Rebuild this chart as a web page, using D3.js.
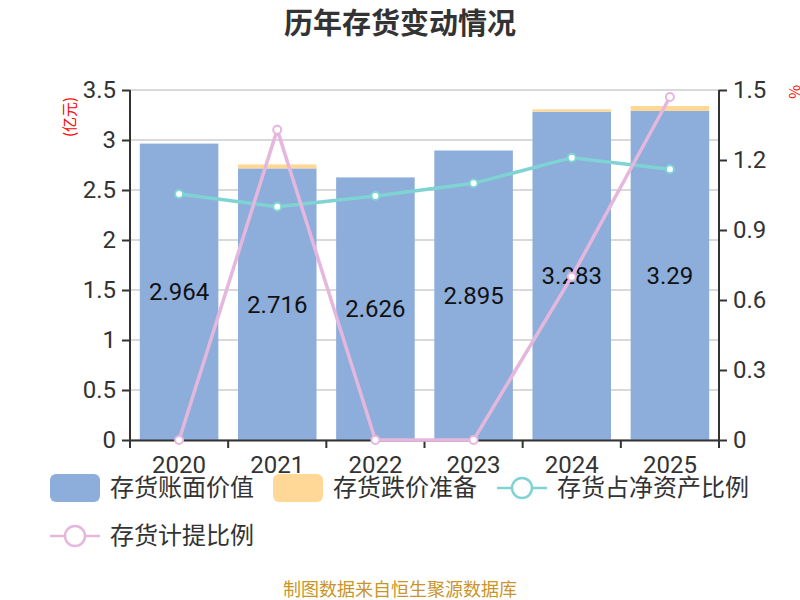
<!DOCTYPE html>
<html>
<head>
<meta charset="utf-8">
<script src="https://cdn.jsdelivr.net/npm/d3@7"></script>
<style>
  body { margin: 0; background: #fff; }
  text { font-family: "Noto Sans CJK SC", "Open Sans", sans-serif; }
  .num { font-family: Roboto, "Open Sans", sans-serif; }
</style>
</head>
<body>
<div id="chart"></div>
<script>
// Data
const years = ["2020", "2021", "2022", "2023", "2024", "2025"];
const bookValue = [2.964, 2.716, 2.626, 2.895, 3.283, 3.29];
const impairment = [0, 0.04, 0, 0, 0.024, 0.05];
const ratioNetAssets = [1.054, 1.0, 1.046, 1.10, 1.21, 1.16];
const provisionRatio = [0, 1.33, 0, 0, 0.70, 1.47];
const leftTicks = [0, 0.5, 1, 1.5, 2, 2.5, 3, 3.5];
const rightTicks = [0, 0.3, 0.6, 0.9, 1.2, 1.5];

const W = 800, H = 600;
const margin = {top: 90, right: 81, bottom: 160, left: 130},
      width = W - margin.left - margin.right,
      height = H - margin.top - margin.bottom;

const blue = "#8daddb", orange = "#ffd898", teal = "#7fd3d3", pink = "#e6b7dc";

const svg = d3.select("#chart").append("svg")
    .attr("width", W).attr("height", H);

svg.append("text")
    .attr("x", W / 2).attr("y", 34)
    .attr("text-anchor", "middle")
    .attr("font-size", 29).attr("font-weight", "bold").attr("fill", "#333")
    .text("历年存货变动情况");

const g = svg.append("g").attr("transform", `translate(${margin.left},${margin.top})`);

const x = d3.scaleBand().domain(years).range([0, width]).paddingInner(0.2).paddingOuter(0.1);
const yL = d3.scaleLinear().domain([0, 3.5]).range([height, 0]);
const yR = d3.scaleLinear().domain([0, 1.5]).range([height, 0]);

// grid
g.append("g").selectAll("line").data(leftTicks).enter().append("line")
    .attr("x1", 0).attr("x2", width)
    .attr("y1", d => yL(d)).attr("y2", d => yL(d))
    .attr("stroke", "#ccc").attr("stroke-width", 1.5);

// bars
g.append("g").selectAll("rect").data(years).enter().append("rect")
    .attr("x", d => x(d)).attr("width", x.bandwidth())
    .attr("y", (d, i) => yL(bookValue[i]))
    .attr("height", (d, i) => height - yL(bookValue[i]))
    .attr("fill", blue);

g.append("g").selectAll("rect").data(years).enter().append("rect")
    .attr("x", d => x(d)).attr("width", x.bandwidth())
    .attr("y", (d, i) => yL(bookValue[i] + impairment[i]))
    .attr("height", (d, i) => yL(bookValue[i]) - yL(bookValue[i] + impairment[i]))
    .attr("fill", orange);

// bar labels
g.append("g").selectAll("text").data(years).enter().append("text")
    .attr("class", "num")
    .attr("x", d => x(d) + x.bandwidth() / 2)
    .attr("y", (d, i) => yL(bookValue[i] / 2))
    .attr("dy", "0.35em")
    .attr("text-anchor", "middle")
    .attr("font-size", 24).attr("fill", "#111")
    .text((d, i) => bookValue[i]);

// axes
const xAxis = g.append("g").attr("transform", `translate(0,${height})`)
    .call(d3.axisBottom(x).tickSize(0).tickPadding(16));
xAxis.selectAll("text").attr("class", "num").attr("font-size", 24).attr("fill", "#333");
xAxis.select(".domain").attr("stroke", "#333").attr("stroke-width", 2);
xAxis.append("g").selectAll("line").data(d3.range(years.length + 1)).enter().append("line")
    .attr("x1", i => i === years.length ? width : (i === 0 ? 0 : x(years[i]) - x.step() * x.paddingInner() / 2))
    .attr("x2", i => i === years.length ? width : (i === 0 ? 0 : x(years[i]) - x.step() * x.paddingInner() / 2))
    .attr("y1", 0).attr("y2", 8)
    .attr("stroke", "#333").attr("stroke-width", 2);

const left = g.append("g")
    .call(d3.axisLeft(yL).tickValues(leftTicks).tickSize(8).tickPadding(6).tickFormat(d3.format("")));
left.selectAll("text").attr("class", "num").attr("font-size", 24).attr("fill", "#333");
left.selectAll("line, path").attr("stroke", "#333").attr("stroke-width", 2);
left.select(".domain").attr("d", `M0,${height + 8}V0`);

const right = g.append("g").attr("transform", `translate(${width},0)`)
    .call(d3.axisRight(yR).tickValues(rightTicks).tickSize(8).tickPadding(6).tickFormat(d3.format("")));
right.selectAll("text").attr("class", "num").attr("font-size", 24).attr("fill", "#333");
right.selectAll("line, path").attr("stroke", "#333").attr("stroke-width", 2);
right.select(".domain").attr("d", `M0,${height + 8}V0`);

svg.append("text")
    .attr("transform", "translate(70,117) rotate(-90)")
    .attr("text-anchor", "middle").attr("dy", "0.35em")
    .attr("font-size", 15).attr("fill", "red")
    .text("(亿元)");
svg.append("text")
    .attr("transform", "translate(794,92) rotate(90)")
    .attr("text-anchor", "middle").attr("dy", "0.35em")
    .attr("font-size", 15).attr("fill", "red")
    .text("%");

// lines
const cx = d => x(d) + x.bandwidth() / 2;
function drawLine(vals, color) {
    const line = d3.line().x((d, i) => cx(years[i])).y(d => yR(d));
    g.append("path").datum(vals).attr("d", line)
        .attr("fill", "none").attr("stroke", color).attr("stroke-width", 3.5);
    g.append("g").selectAll("circle").data(vals).enter().append("circle")
        .attr("cx", (d, i) => cx(years[i])).attr("cy", d => yR(d))
        .attr("r", 4).attr("fill", "#fff").attr("stroke", color).attr("stroke-width", 2);
}
drawLine(ratioNetAssets, teal);
drawLine(provisionRatio, pink);

// legend
const legend = [
    {name: "存货账面价值", type: "rect", color: blue, x: 50, y: 488},
    {name: "存货跌价准备", type: "rect", color: orange, x: 273, y: 488},
    {name: "存货占净资产比例", type: "line", color: teal, x: 497, y: 488},
    {name: "存货计提比例", type: "line", color: pink, x: 50, y: 536}
];
const lg = svg.append("g").selectAll("g").data(legend).enter().append("g")
    .attr("transform", d => `translate(${d.x},${d.y})`);
lg.filter(d => d.type === "rect").append("rect")
    .attr("x", 0).attr("y", -14).attr("width", 50).attr("height", 28).attr("rx", 6)
    .attr("fill", d => d.color);
lg.filter(d => d.type === "line").append("line")
    .attr("x1", 0).attr("x2", 50).attr("y1", 0).attr("y2", 0)
    .attr("stroke", d => d.color).attr("stroke-width", 2.5);
lg.filter(d => d.type === "line").append("circle")
    .attr("cx", 25).attr("cy", 0).attr("r", 10)
    .attr("fill", "#fff").attr("stroke", d => d.color).attr("stroke-width", 2.5);
lg.append("text")
    .attr("x", 60).attr("dy", "0.35em")
    .attr("font-size", 24).attr("fill", "#333")
    .text(d => d.name);

svg.append("text")
    .attr("x", W / 2).attr("y", 596)
    .attr("text-anchor", "middle")
    .attr("font-size", 18).attr("fill", "#c9952b")
    .text("制图数据来自恒生聚源数据库");
</script>
</body>
</html>
